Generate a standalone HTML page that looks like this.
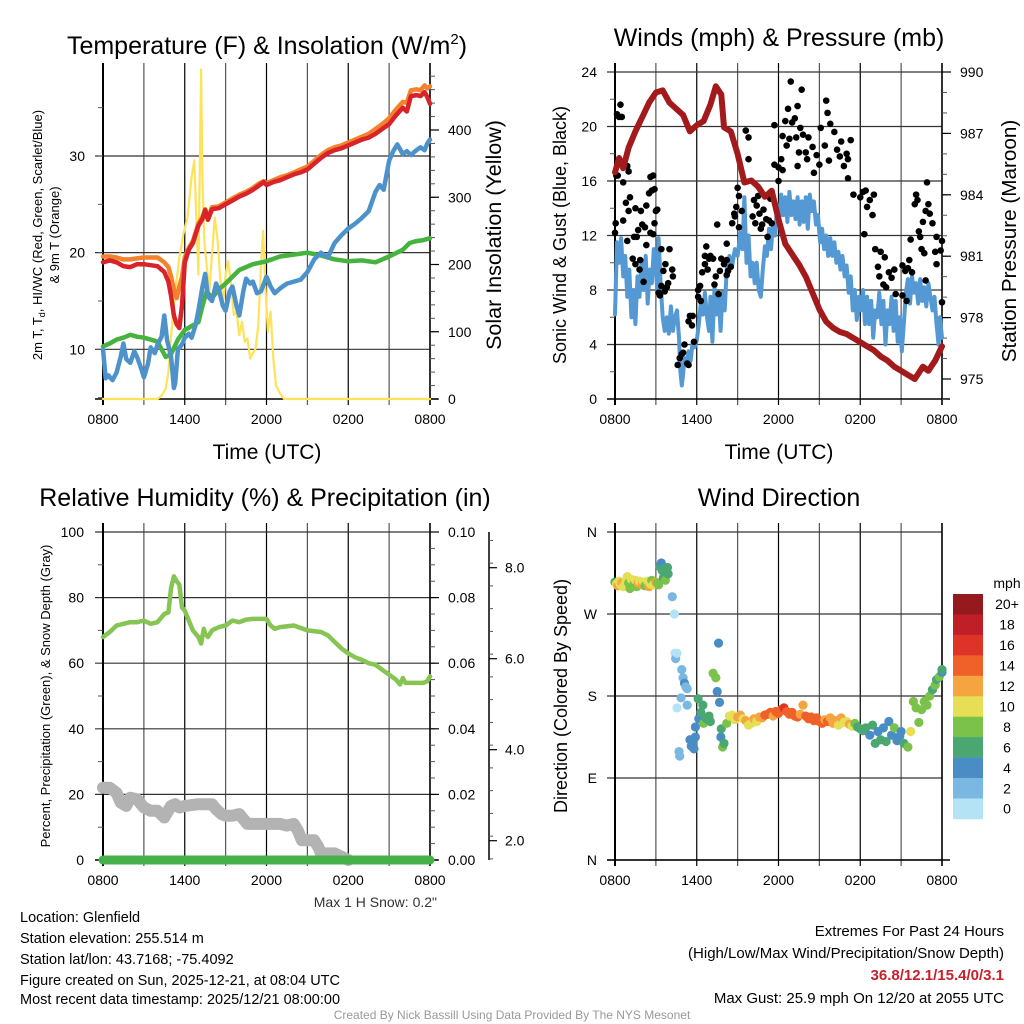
<!DOCTYPE html>
<html><head><meta charset="utf-8"><style>
html,body{margin:0;padding:0;background:#fff}
svg{display:block;font-family:"Liberation Sans",sans-serif}
</style></head><body>
<svg id="svg" width="1024" height="1024" viewBox="0 0 1024 1024" xmlns="http://www.w3.org/2000/svg">
<rect width="1024" height="1024" fill="#fff"/>
<g id="g1"></g>
<g id="g2"></g>
<g id="g3"></g>
<g id="g4"></g>
<text x="267" y="54" font-size="25" text-anchor="middle">Temperature (F) &amp; Insolation (W/m<tspan dy="-10" font-size="15">2</tspan><tspan dy="10">)</tspan></text>
<text x="779" y="46" font-size="25" text-anchor="middle">Winds (mph) &amp; Pressure (mb)</text>
<text x="265" y="506" font-size="25" text-anchor="middle">Relative Humidity (%) &amp; Precipitation (in)</text>
<text x="779" y="506" font-size="25" text-anchor="middle">Wind Direction</text>
<text x="267" y="459" font-size="21" text-anchor="middle">Time (UTC)</text>
<text x="779" y="459" font-size="21" text-anchor="middle">Time (UTC)</text>
<text font-size="13" text-anchor="middle" transform="translate(42,235) rotate(-90)">2m T, T<tspan dy="3" font-size="9">d</tspan><tspan dy="-3">, HI/WC (Red, Green, Scarlet/Blue)</tspan></text>
<text font-size="13" text-anchor="middle" transform="translate(59,235) rotate(-90)">&amp; 9m T (Orange)</text>
<text font-size="21.5" text-anchor="middle" transform="translate(501,235) rotate(-90)">Solar Insolation (Yellow)</text>
<text font-size="18" text-anchor="middle" transform="translate(566,235) rotate(-90)">Sonic Wind &amp; Gust (Blue, Black)</text>
<text font-size="20.7" text-anchor="middle" transform="translate(1016,241) rotate(-90)">Station Pressure (Maroon)</text>
<text font-size="13" text-anchor="middle" transform="translate(50,696) rotate(-90)">Percent, Precipitation (Green), &amp; Snow Depth (Gray)</text>
<text font-size="18" text-anchor="middle" transform="translate(567,696) rotate(-90)">Direction (Colored By Speed)</text>
<text x="437" y="907" font-size="14" fill="#333" text-anchor="end">Max 1 H Snow: 0.2"</text>
<g font-size="14.5">
<text x="20" y="922">Location: Glenfield</text>
<text x="20" y="943">Station elevation: 255.514 m</text>
<text x="20" y="964">Station lat/lon: 43.7168; -75.4092</text>
<text x="20" y="985">Figure created on Sun, 2025-12-21, at 08:04 UTC</text>
<text x="20" y="1004">Most recent data timestamp: 2025/12/21 08:00:00</text>
</g>
<g font-size="15" text-anchor="end">
<text x="1004" y="936">Extremes For Past 24 Hours</text>
<text x="1004" y="958">(High/Low/Max Wind/Precipitation/Snow Depth)</text>
<text x="1004" y="980" fill="#c8202a" font-weight="bold">36.8/12.1/15.4/0/3.1</text>
<text x="1004" y="1003">Max Gust: 25.9 mph On 12/20 at 2055 UTC</text>
</g>
<text x="512" y="1019" font-size="12" fill="#999" text-anchor="middle">Created By Nick Bassill Using Data Provided By The NYS Mesonet</text>
</svg>
<script>
// ---------- data ----------
const xTickLabels=["0800","1400","2000","0200","0800"];
const tempTicks=[10,20,30];
const insolTicks=[0,100,200,300,400];
const windTicks=[0,4,8,12,16,20,24];
const presTicks=[975,978,981,984,987,990];
const rhTicks=[0,20,40,60,80,100];
const precipTickLabels=["0.00","0.02","0.04","0.06","0.08","0.10"];
const snowTicks=[2,4,6,8];
const dirTickLabels=["N","E","S","W","N"];
const speedBins=[0,2,4,6,8,10,12,14,16,18,20];
const speedBinLabels=["0","2","4","6","8","10","12","14","16","18","20+"];

const tempT=[0,0.5,1,1.5,2,2.5,3,3.5,4,4.5,4.8,5,5.2,5.4,5.6,5.8,6,6.3,6.6,7,7.3,7.5,7.7,8,8.5,9,9.5,10,10.5,11,11.5,11.8,12,12.5,13,13.5,14,14.5,15,15.5,16,16.5,17,17.5,18,18.5,19,19.5,20,20.5,21,21.5,22,22.3,22.6,23,23.3,23.6,23.8,24];
const tempV=[19.0,19.2,19.0,18.6,18.5,18.8,18.8,18.7,18.6,18.0,17.0,15.5,13.5,12.6,12.2,14.5,19.0,20.3,21.0,22.8,23.5,24.4,23.4,24.5,24.6,25.0,25.4,25.8,26.1,26.5,27.0,27.3,27.0,27.3,27.5,27.8,28.1,28.3,28.6,29.2,29.8,30.3,30.6,30.8,31.1,31.4,31.7,31.9,32.3,32.8,33.3,34.2,35.0,34.6,36.2,36.3,36.2,36.6,36.1,35.4];
const orangeV=[19.6,19.6,19.5,19.3,19.3,19.4,19.5,19.5,19.5,19.0,18.5,17.5,16.2,15.3,16.5,17.5,19.5,20.5,21.2,23.0,23.7,24.5,23.6,24.7,24.8,25.2,25.6,26.0,26.3,26.7,27.2,27.4,27.2,27.5,27.8,28.0,28.3,28.6,28.9,29.5,30.1,30.6,30.9,31.1,31.4,31.7,32.0,32.3,32.8,33.3,33.9,34.8,35.6,35.5,36.8,36.9,36.8,37.3,37.0,37.2];
const dewT=[0,0.5,1,1.5,2,2.5,3,3.5,4,4.3,4.6,5,5.5,6,6.5,7,7.3,7.6,8,8.5,9,9.5,10,11,12,13,14,15,16,17,18,19,20,21,22,22.5,23,23.5,24];
const dewV=[10.3,10.6,11.0,11.2,11.5,11.3,11.2,11.0,10.8,10.0,9.2,9.5,11.0,12.0,12.4,12.8,14.5,16.0,15.3,16.2,16.8,17.5,18.2,18.8,19.1,19.6,19.8,20.0,19.7,19.3,19.1,19.2,19.0,19.6,20.3,21.0,21.2,21.3,21.5];
const wcT=[0,0.2,0.4,0.7,1,1.3,1.5,1.7,2,2.3,2.5,2.8,3,3.3,3.5,3.8,4,4.3,4.5,4.7,5,5.2,5.3,5.5,5.8,6,6.3,6.5,6.8,7,7.3,7.5,7.7,8,8.3,8.5,8.8,9,9.3,9.5,9.8,10,10.3,10.5,10.8,11,11.3,11.6,12,12.3,12.6,13,13.5,14,14.5,15,15.5,16,16.5,17,17.5,18,18.5,19,19.5,20,20.3,20.6,21,21.3,21.6,22,22.3,22.6,23,23.3,23.6,23.8,24];
const wcV=[10.0,7.0,7.3,6.8,7.6,9.2,10.6,9.0,8.6,9.8,9.2,8.0,7.1,8.5,10.2,9.6,10.5,11.3,13.5,11.0,9.2,6.0,6.5,10.0,10.5,11.2,11.6,11.2,12.5,14.0,16.5,17.8,15.5,15.0,16.8,16.2,14.5,14.0,16.0,16.5,14.5,13.5,16.0,17.3,16.8,17.0,15.8,16.0,17.5,16.5,15.8,16.3,16.8,17.0,17.2,18.0,19.3,20.0,19.5,21.0,21.8,22.5,23.0,23.6,24.3,26.3,27.0,26.5,29.5,30.5,31.2,30.2,30.5,30.1,30.6,30.9,30.6,31.3,31.7];
const solT=[0,4.0,4.3,4.6,4.8,5.0,5.3,5.6,5.9,6.2,6.5,6.7,6.85,7.0,7.1,7.2,7.3,7.45,7.6,7.8,8.0,8.2,8.4,8.6,8.8,9.0,9.2,9.4,9.6,9.8,10.0,10.2,10.4,10.6,10.8,11.0,11.2,11.4,11.6,11.75,11.9,12.1,12.3,12.5,12.7,13.0,13.3,24];
const solV=[0,0,5,15,40,95,160,210,245,270,330,355,270,185,330,490,320,230,200,160,215,270,240,180,140,185,205,170,125,130,95,115,85,90,60,68,75,110,200,250,175,100,130,60,20,8,0,0];

const presT=[0,0.3,0.6,1,1.5,2,2.5,3,3.5,4,4.5,5,5.5,6,6.5,7,7.4,7.8,8,8.5,9,9.5,10,10.5,11,11.5,12,12.5,13,13.5,14,14.5,15,15.5,16,16.5,17,17.5,18,18.5,19,19.5,20,20.5,21,21.5,22,22.3,22.6,23,23.5,24];
const presV=[985.1,985.8,985.3,986.3,987.1,987.8,988.5,989.0,989.1,988.5,988.2,987.9,987.1,987.4,987.6,988.4,989.3,988.9,987.3,987.1,986.0,984.6,984.7,984.4,983.9,984.2,982.8,981.6,981.1,980.6,980.0,979.2,978.4,977.8,977.5,977.3,977.2,977.0,976.8,976.6,976.4,976.1,975.9,975.6,975.4,975.2,975.0,975.3,975.6,975.4,975.9,976.6];
const windT=[0,0.15,0.3,0.45,0.6,0.75,0.9,1.05,1.2,1.35,1.5,1.65,1.8,1.95,2.1,2.25,2.4,2.55,2.7,2.85,3.0,3.1,3.2,3.35,3.5,3.65,3.8,3.95,4.1,4.25,4.4,4.55,4.7,4.8,4.9,5.0,5.1,5.25,5.4,5.55,5.7,5.85,6.0,6.15,6.3,6.45,6.6,6.75,6.9,7.0,7.15,7.3,7.45,7.6,7.75,7.9,8.05,8.2,8.4,8.6,8.8,9.0,9.2,9.35,9.5,9.65,9.8,9.95,10.1,10.25,10.4,10.55,10.7,10.85,11.0,11.15,11.3,11.45,11.6,11.75,11.9,12.05,12.2,12.35,12.5,12.65,12.8,12.95,13.1,13.25,13.4,13.55,13.7,13.85,14.0,14.15,14.3,14.45,14.6,14.75,14.9,15.05,15.2,15.35,15.5,15.65,15.8,15.95,16.1,16.25,16.4,16.55,16.7,16.85,17.0,17.15,17.3,17.45,17.6,17.75,17.9,18.05,18.2,18.35,18.5,18.65,18.8,18.95,19.1,19.25,19.4,19.55,19.7,19.85,20.0,20.15,20.3,20.45,20.6,20.75,20.9,21.05,21.2,21.35,21.5,21.65,21.8,21.95,22.1,22.25,22.4,22.55,22.7,22.85,23.0,23.15,23.3,23.45,23.6,23.75,23.85,24.0];
const windV=[6.2,11.5,10,11.8,9,10.5,7.5,9.5,6,8,5.5,9,7.5,10.2,8,10.5,7,9.5,8.5,11,9.5,8,11.8,8.5,6,5,6,4.8,6.8,5,6,6.5,4.5,2,1,1.8,3,2.5,3.5,2.8,4.2,3.8,4.3,5.5,7,6.2,7.8,6,5,7.5,4.2,8.2,6.2,7.8,5,7.8,6.5,9.5,10.5,9.8,11,10.5,12.2,11,14.8,10,12,9,10,8.5,10,8,7.5,9.5,11.2,10.5,12.5,11,12.8,12,14.2,13,15,13.5,14.8,13,15.2,13.5,14.5,13.2,14.8,12.8,14.5,13,14.8,12.5,15,13.8,14.5,12.8,13.5,11.5,12.5,11,12,10.5,11.8,10.5,11.5,10,10.8,9.5,10.5,9,9.8,7.8,9,6.5,8,5.8,7.5,6.5,8,5.5,7.5,5.5,7.2,4.5,6.5,6,7.8,5.5,7.2,4,6.5,5.5,7.5,5,7.2,4.2,6,3.5,5.5,7.8,8.8,7,9,7.8,8.5,7,8.8,7.2,8.2,6.8,8.5,7.5,6.5,7.5,5.5,4,6,4.5];
const gustT=[0,0.05,0.1,0.15,0.3,0.4,0.5,0.6,0.6,0.2,0.9,1.0,0.8,0.9,1.0,1.1,1.3,1.5,1.85,1.4,1.6,1.5,1.7,1.9,2.0,2.2,2.3,2.5,2.3,1.8,2.1,2.6,2.8,2.9,2.7,2.6,2.8,2.9,3.1,3.0,3.4,3.55,3.3,3.65,3.7,3.4,3.8,4.0,4.2,4.25,3.9,3.2,4.6,4.75,4.9,5.1,5.0,5.3,5.4,5.4,5.5,5.7,5.65,5.8,6.1,6.1,6.3,6.25,6.4,6.6,6.6,6.7,6.8,6.9,7.0,7.2,7.5,7.4,7.3,7.6,7.8,8.0,8.2,8.2,7.7,8.3,8.2,8.5,8.6,8.75,8.8,8.9,9.0,9.1,9.1,9.3,9.6,9.8,9.8,10.2,10.1,10.3,10.4,10.5,10.6,10.7,10.8,10.9,11.1,11.2,11.3,11.4,11.5,11.7,11.7,12.0,12.0,12.2,12.3,12.3,12.6,12.8,12.5,12.7,12.9,13.0,13.2,13.4,13.3,13.6,13.5,13.4,13.7,13.8,14.0,14.1,14.2,14.5,14.6,14.8,15.0,15.1,15.5,15.6,15.8,15.4,15.7,16.1,16.3,16.5,16.6,16.8,17.0,17.1,17.1,17.3,17.5,18.0,18.2,18.4,18.5,18.7,18.9,18.3,19.0,19.1,19.5,19.3,19.4,19.7,19.9,19.8,20.1,20.3,20.5,20.6,21.1,21.3,21.5,21.7,21.6,21.8,22.0,22.1,22.2,22.3,22.4,22.5,22.7,22.6,22.8,22.9,23.0,23.1,23.3,23.6,23.5,23.6,23.9,24.0,24.0,22.8,21.4,21.1];
const gustV=[12.2,12.9,16.4,20.9,20.7,21.6,20.7,15.9,13.1,16.4,17.1,16.7,14.4,11.6,13.8,14.8,10.3,9.9,10.2,11.9,11.9,14.0,12.4,13.8,12.8,12.6,14.2,15.1,11.3,9.5,8.6,16.3,16.4,15.4,15.3,12.2,12.1,12.9,13.9,13.8,11.0,9.4,7.6,7.9,9.9,8.3,8.2,11.0,9.5,9.0,8.5,7.8,2.5,3.0,3.3,4.0,3.4,2.6,2.5,5.7,6.1,6.1,5.4,4.2,8.0,7.5,7.2,8.3,9.3,9.9,10.5,11.2,9.5,10.3,10.5,10.3,12.8,9.0,8.4,7.7,10.3,9.9,10.2,11.4,9.4,9.4,9.1,9.7,12.9,13.6,13.4,14.1,15.5,14.9,12.6,13.8,19.7,19.2,17.6,14.6,13.4,12.9,14.2,14.9,13.6,12.5,12.8,13.9,13.2,11.9,13.1,14.7,12.9,20.1,17.2,17.0,16.0,17.6,16.8,19.3,18.6,19.1,20.4,21.3,23.3,20.3,20.6,21.5,19.2,19.9,18.1,17.1,22.7,19.4,18.1,17.6,19.2,18.5,16.6,17.9,17.2,19.9,21.9,21.0,20.2,18.6,17.5,19.6,18.3,17.8,18.9,17.1,18.0,17.6,16.2,19.0,15.0,14.8,15.2,15.3,14.1,14.6,13.5,12.1,15.0,11.0,10.8,9.7,9.0,8.4,8.2,10.4,9.3,8.9,9.5,7.7,9.8,9.4,9.6,11.7,10.2,9.3,14.3,15.0,14.6,12.3,11.9,11.0,10.7,13.0,13.8,15.9,14.3,13.6,12.9,11.9,10.8,9.9,10.9,11.6,7.1,8.7,7.2,7.6];

const rhT=[0,0.5,1,1.5,2,2.5,3,3.5,4,4.5,4.8,5,5.2,5.4,5.6,5.8,6,6.3,6.6,7,7.2,7.4,7.5,7.7,8,8.5,9,9.5,10,10.5,11,11.5,12,12.3,12.6,13,14,15,16,16.5,17,17.5,18,18.5,19,19.5,20,20.5,21,21.5,21.8,22,22.2,22.5,23,23.5,23.8,24];
const rhV=[68,69.5,71.5,72,72.5,72.5,73,72,72.5,75,75.5,83,86.5,85,84,77,76,73,70,68,66,70.5,69,68,70,71,71.5,73,72.5,73.3,73.5,73.5,73.5,71.5,70.5,71,71.5,70,69.5,68.5,66.5,64.5,63,61.8,61,60,59.5,58,56.5,55,53.5,55.5,54,54,54,54,54.5,56];
const snowT=[0,0.5,1,1.3,1.7,2,2.5,3,3.5,4,4.5,5,5.3,5.6,6,7,8,8.3,8.7,9,9.5,10,10.3,10.6,11,12,13,13.5,14,14.3,14.6,15,15.5,15.8,16,16.5,17,17.5,18];
const snowV=[22,22,20.5,17.5,16.5,19,18.5,16,15,15,13,16.5,17,16,16.5,17,17,15.5,14,13.5,13.5,14,12.5,11,11,11,11,10.5,11,9,6,6,6,4,2,2,2,1,0];
const precipT=[0,24];
const precipV=[0,0];

const dirT=[0,0.1,0.2,0.3,0.4,0.5,0.6,0.8,0.9,1.0,1.1,1.2,1.4,1.5,1.6,1.7,1.8,2.0,2.1,2.2,2.4,2.5,2.6,2.7,2.8,3.0,3.1,3.2,3.3,3.4,3.45,3.55,3.6,3.7,3.75,3.85,3.9,4.2,4.36,4.4,4.45,4.55,4.9,5.0,5.1,5.2,5.3,4.85,4.55,5.3,4.7,4.75,5.5,5.6,5.7,5.8,5.9,5.9,6.1,6.15,6.3,6.45,6.5,6.7,6.9,7.0,7.2,7.4,7.6,7.5,7.67,7.77,7.8,7.9,8.0,8.2,8.4,8.6,8.8,9.0,9.2,9.4,9.6,9.8,10.0,10.2,10.4,10.6,10.8,11.0,11.2,11.4,11.6,11.8,12.0,12.2,12.4,12.6,12.8,13.0,13.2,13.4,13.6,13.8,14.0,14.2,14.4,14.6,14.8,15.0,15.2,15.4,15.6,15.8,16.0,16.2,16.4,16.6,16.8,17.0,17.2,17.4,17.6,17.8,18.0,18.2,18.4,18.7,18.9,19.1,19.3,19.5,19.7,19.9,20.1,20.3,20.5,20.7,20.9,21.0,21.2,21.5,21.7,21.9,22.1,22.3,22.5,22.7,22.9,23.1,23.3,23.5,23.6,23.8,24.0,24.0];
const dirV=[305,303,301,306,302,304,300,306,311,304,298,308,303,307,300,304,306,302,305,301,306,300,303,307,302,305,304,302,322,326,318,310,320,307,316,321,314,289,270,227,221,227,209,200,194,190,188,178,167,170,119,114,132,125,128,122,135,146,177,155,162,170,150,155,158,152,205,200,238,185,173,135,144,124,128,150,158,159,154,157,159,155,153,148,150,155,152,157,156,159,160,162,158,163,161,165,167,163,160,162,158,157,160,170,158,155,157,153,156,152,150,154,152,156,150,153,148,156,151,152,149,147,150,146,144,142,145,137,148,128,141,132,145,130,152,137,145,131,136,141,128,124,141,174,167,151,165,174,170,180,187,192,198,201,206,209,211,203];
const dirS=[6,10,12,10,10,12,10,10,10,8,8,10,8,10,8,12,10,12,10,8,10,12,10,8,10,12,8,8,6,4,6,6,6,8,6,6,6,2,0,0,2,0,2,2,4,2,2,2,0,2,2,2,4,4,4,4,4,4,6,4,6,6,8,6,6,6,8,8,4,4,4,4,6,8,6,8,10,10,10,12,12,10,12,10,10,12,10,12,12,14,14,14,12,14,14,14,16,14,14,14,14,14,12,12,14,14,14,14,14,14,14,12,14,12,12,12,10,12,10,10,12,10,8,6,6,6,6,4,6,6,4,6,4,6,4,4,8,4,4,4,6,8,10,8,8,8,8,8,8,8,6,8,6,8,4,6,4,6];
</script>
<script>
const NS="http://www.w3.org/2000/svg";
function el(parent,tag,attrs){const e=document.createElementNS(NS,tag);for(const k in attrs)e.setAttribute(k,attrs[k]);parent.appendChild(e);return e;}
function lin(d0,d1,r0,r1){return v=>r0+(v-d0)*(r1-r0)/(d1-d0);}
function pathD(xs,ys,fx,fy){return xs.map((t,i)=>(i?"L":"M")+fx(t).toFixed(1)+","+fy(ys[i]).toFixed(1)).join("");}
function frame(g,x0,x1,y0,y1,fx,hGridVals,fy){
  for(let h=0;h<=24;h+=3){
    const l=el(g,"line",{x1:fx(h),x2:fx(h),y1:y0-9,y2:y1+6,stroke:(h%6===0?"#000":"#555"),"stroke-width":1.2});
    
    
  }
  hGridVals.forEach(v=>{
    const l=el(g,"line",{x1:x0-8,x2:x1,y1:fy(v),y2:fy(v),stroke:"#333","stroke-width":1.2});
    
    
  });
  const b=el(g,"line",{x1:x0-8,x2:x1+8,y1:y1,y2:y1,stroke:"#000","stroke-width":1.5});
  
  
  const lft=el(g,"line",{x1:x0,x2:x0,y1:y0-9,y2:y1+6,stroke:"#000","stroke-width":2});
  
  
  const rgt=el(g,"line",{x1:x1,x2:x1,y1:y0-9,y2:y1+6,stroke:"#000","stroke-width":1.5});
  
  
  xTickLabels.forEach((s,i)=>{
    const t=el(g,"text",{x:fx(i*6),y:y1+25,"font-size":14,"text-anchor":"middle"});t.textContent=s;
    
    
  });
}
function line(g,xs,ys,fx,fy,color,w,name){
  const p=el(g,"path",{d:pathD(xs,ys,fx,fy),fill:"none",stroke:color,"stroke-width":w,"stroke-linejoin":"round","stroke-linecap":"round"});
  
  
  return p;
}
function ylabels(g,vals,fy,x,anchor,fmt){
  vals.forEach((v,i)=>{
    const t=el(g,"text",{x:x,y:fy(v)+5,"font-size":14,"text-anchor":anchor});t.textContent=fmt?fmt(v,i):v;
    
    
  });
}
function minorTicks(g,x,from,to,step,fy,len){
  for(let v=from;v<=to+1e-9;v+=step){const l=el(g,"line",{x1:x,x2:x+len,y1:fy(v),y2:fy(v),stroke:"#555","stroke-width":1});
    
    }
}
// ---------- panel 1 ----------
(function(){
  const g=document.getElementById("g1");
  const X0=103,X1=430,Y0=72,Y1=399;
  const fx=lin(0,24,X0,X1), fy=lin(10,30,349.3,156), fs=lin(0,400,399,130);
  frame(g,X0,X1,Y0,Y1,fx,tempTicks,fy);
  minorTicks(g,X0-5,5,35,5,fy,5);
  minorTicks(g,X1,0,480,20,fs,5);
  insolTicks.forEach(v=>{const l=el(g,"line",{x1:X1,x2:X1+9,y1:fs(v),y2:fs(v),stroke:"#000","stroke-width":1.2});
    
    });
  ylabels(g,tempTicks,fy,85,"end");
  ylabels(g,insolTicks,fs,448,"start");
  line(g,solT,solV,fx,fs,"#fde35a",2.2,"solar-insolation-line");
  line(g,dewT,dewV,fx,fy,"#47b33f",4.5,"dewpoint-line");
  line(g,wcT,wcV,fx,fy,"#4e92cc",4.5,"wind-chill-line");
  line(g,tempT,orangeV,fx,fy,"#f4812b",4.5,"temp-9m-line");
  line(g,tempT,tempV,fx,fy,"#d8232a",4.5,"temp-2m-line");
})();
// ---------- panel 2 ----------
(function(){
  const g=document.getElementById("g2");
  const X0=615,X1=942,Y0=72,Y1=399;
  const fx=lin(0,24,X0,X1), fy=lin(0,24,Y1,Y0), fp=lin(975,990,379,72);
  frame(g,X0,X1,Y0,Y1,fx,windTicks.slice(1),fy);
  minorTicks(g,X0-5,2,22,4,fy,5);
  minorTicks(g,X1,974,990,1,fp,5);
  presTicks.forEach(v=>{const l=el(g,"line",{x1:X1,x2:X1+9,y1:fp(v),y2:fp(v),stroke:"#000","stroke-width":1.2});
    
    });
  ylabels(g,windTicks,fy,597,"end");
  ylabels(g,presTicks,fp,960,"start");
  line(g,windT,windV,fx,fy,"#5499d3",4,"wind-speed-line");
  gustT.forEach((t,i)=>{
    const c=el(g,"circle",{cx:fx(t),cy:fy(gustV[i]),r:3.3,fill:"#000"});
    
    
  });
  line(g,presT,presV,fx,fp,"#a31a1c",6,"pressure-line");
})();
// ---------- panel 3 ----------
(function(){
  const g=document.getElementById("g3");
  const X0=103,X1=430,Y0=532,Y1=860;
  const fx=lin(0,24,X0,X1), fy=lin(0,100,Y1,Y0), fsn=lin(2,8,840.7,567.7);
  frame(g,X0,X1,Y0,Y1,fx,rhTicks.slice(1),fy);
  minorTicks(g,X0-5,10,90,20,fy,5);
  minorTicks(g,X1,0,100,5,fy,5);
  rhTicks.forEach(v=>{const l=el(g,"line",{x1:X1,x2:X1+9,y1:fy(v),y2:fy(v),stroke:"#000","stroke-width":1.2});
    
    });
  ylabels(g,rhTicks,fy,84,"end");
  ylabels(g,rhTicks,fy,448,"start",(v,i)=>precipTickLabels[i]);
  const ax=el(g,"line",{x1:489,x2:489,y1:Y0,y2:Y1,stroke:"#000","stroke-width":1.5});
  
  
  minorTicks(g,489,1.6,8.7,0.5,fsn,4);
  snowTicks.forEach(v=>{const l=el(g,"line",{x1:489,x2:497,y1:fsn(v),y2:fsn(v),stroke:"#000","stroke-width":1.2});
    
    
    const t=el(g,"text",{x:505,y:fsn(v)+5,"font-size":14});t.textContent=v.toFixed(1);
    
    });
  line(g,snowT,snowV,fx,fy,"#b3b3b3",12,"snow-depth-line");
  line(g,rhT,rhV,fx,fy,"#86c553",4.5,"relative-humidity-line");
  line(g,precipT,precipV,fx,fy,"#46b04a",9,"precipitation-line");
})();
// ---------- panel 4 ----------
(function(){
  const g=document.getElementById("g4");
  const X0=615,X1=942,Y0=532,Y1=860;
  const fx=lin(0,24,X0,X1), fy=lin(0,360,Y1,Y0);
  frame(g,X0,X1,Y0,Y1,fx,[0,90,180,270,360],fy);
  ylabels(g,[0,90,180,270,360],fy,597,"end",(v,i)=>dirTickLabels[i]);
  const colors=["#b3e3f5","#7ab8e2","#4a8cc4","#4aa772","#7ac24a","#e6de55","#f5a540","#ef6128","#de3428","#c01f27","#951a1d"];
  function col(s){let k=0;for(let i=0;i<speedBins.length;i++)if(s>=speedBins[i])k=i;return colors[k];}
  dirT.forEach((t,i)=>{
    const c=el(g,"circle",{cx:fx(t),cy:fy(dirV[i]),r:4.6,fill:col(dirS[i])});
    
    
  });
  const cb=el(g,"g",{});
  
  
  const top=594,bh=20.45;
  speedBinLabels.forEach((s,i)=>{
    const k=speedBinLabels.length-1-i;
    const r=el(cb,"rect",{x:953,y:top+i*bh,width:30,height:bh+0.3,fill:colors[k]});
    
    
    const t=el(cb,"text",{x:1007,y:top+i*bh+bh/2+5,"font-size":14,"text-anchor":"middle"});t.textContent=speedBinLabels[k];
    
    
  });
  const m=el(cb,"text",{x:1007,y:588,"font-size":14,"text-anchor":"middle"});m.textContent="mph";
  
  
})();
</script>
</body></html>
